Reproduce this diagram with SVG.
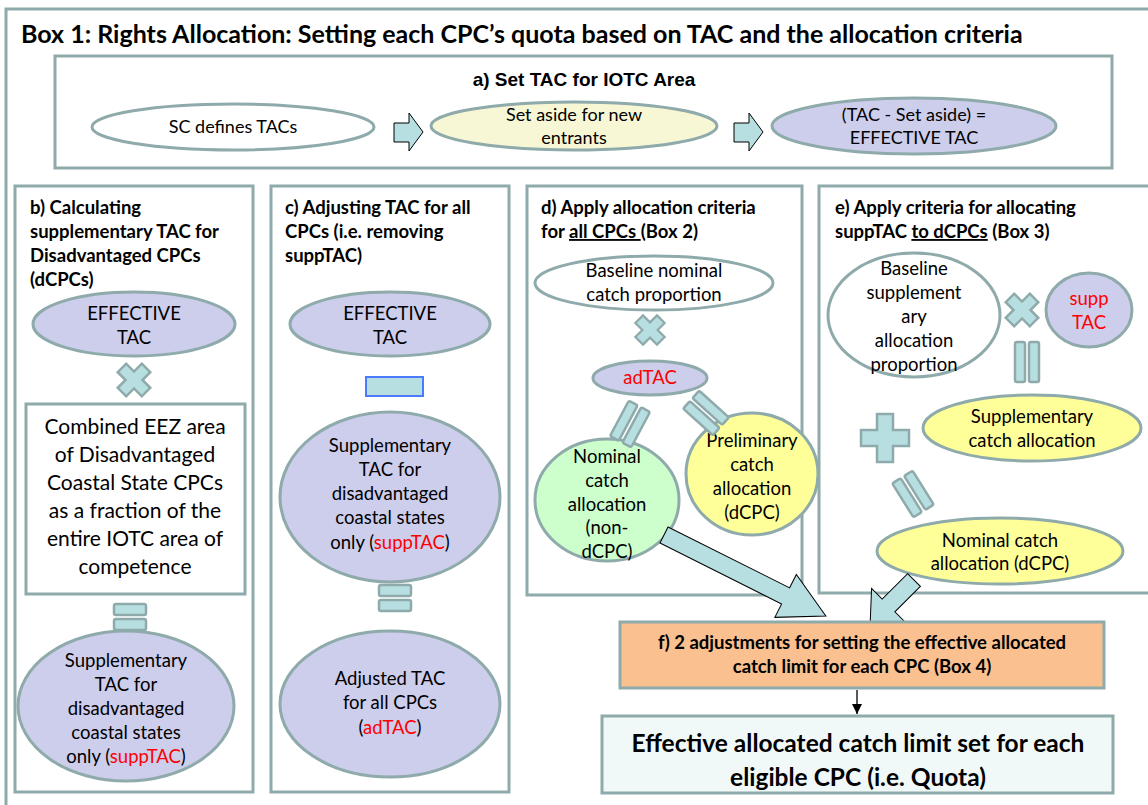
<svg xmlns="http://www.w3.org/2000/svg" width="1148" height="805" viewBox="0 0 1148 805">
<defs>
<style>
.box{fill:#fff;stroke:#8FAAAA;stroke-width:3}
.ell{stroke:#8FAAAA;stroke-width:3}
.lav{fill:#CDCDEC}
.wht{fill:#fff}
.yel{fill:#FFFF99}
.ltyel{fill:#F7F7D5}
.grn{fill:#CCFFCC}
.op{fill:#B7DEE0;stroke:#8FAAAA;stroke-width:2.5}
.arr{fill:#B7DEE0;stroke:#000;stroke-width:1}
.t{font-family:Lato,"Liberation Sans",sans-serif;fill:#000}
.ta{font-family:"Liberation Sans",Arial,sans-serif;fill:#000}
.b{font-weight:bold}
.red{fill:#FF0000}
.c{text-anchor:middle}
.s16{font-size:18px}
.s17{font-size:18.5px}
.h{font-size:18.5px;font-weight:bold}
</style>
<path id="plus" d="M-6,-17H6V-6H17V6H6V17H-6V6H-17V-6H-6Z"/>
<path id="bigplus" d="M-8,-24H8V-8H24V8H8V24H-8V8H-24V-8H-8Z"/>
<g id="eq"><rect x="-16" y="-13" width="32" height="11" rx="2"/><rect x="-16" y="2" width="32" height="11" rx="2"/></g>
<g id="eqL"><rect x="-20" y="-12" width="40" height="10" rx="2"/><rect x="-20" y="2" width="40" height="10" rx="2"/></g>
<marker id="ah" viewBox="0 0 10 10" refX="10" refY="5" markerWidth="8" markerHeight="8" orient="auto"><path d="M0,0L10,5L0,10Z" fill="#000"/></marker>
</defs>

<rect x="0" y="0" width="1148" height="805" fill="#fff"/>

<g id="outer">
<rect x="6" y="9" width="1200" height="900" fill="none" stroke="#8FAAAA" stroke-width="3"/>
<text class="t b" x="21" y="43" font-size="25">Box 1: Rights Allocation: Setting each CPC’s quota based on TAC and the allocation criteria</text>
</g>

<g id="boxA">
<rect class="box" x="55" y="56" width="1057" height="112"/>
<text class="ta b c" x="584" y="86" font-size="19">a) Set TAC for IOTC Area</text>
</g>
<g id="scDefines">
<ellipse class="ell wht" cx="233" cy="127" rx="141" ry="23"/>
<text class="t c s16" x="233" y="133">SC defines TACs</text>
</g>
<g id="setAside">
<ellipse class="ell ltyel" cx="574" cy="126" rx="143" ry="24"/>
<text class="t c s16" x="574" y="121">Set aside for new</text>
<text class="t c s16" x="574" y="144">entrants</text>
</g>
<g id="effTAC">
<ellipse class="ell lav" cx="914" cy="126" rx="142" ry="28"/>
<text class="t c s16" x="914" y="121">(TAC - Set aside) =</text>
<text class="t c s16" x="914" y="144">EFFECTIVE TAC</text>
</g>

<g id="boxB">
<rect class="box" x="15" y="186" width="238" height="606"/>
<text class="t h" x="30" y="214">b) Calculating</text>
<text class="t h" x="30" y="238">supplementary TAC for</text>
<text class="t h" x="30" y="262">Disadvantaged CPCs</text>
<text class="t h" x="30" y="286">(dCPCs)</text>
</g>
<g id="bEff">
<ellipse class="ell lav" cx="134" cy="324" rx="101" ry="32"/>
<text class="t c s17" x="134" y="320">EFFECTIVE</text>
<text class="t c s17" x="134" y="344">TAC</text>
</g>
<g id="bEez">
<rect class="box" x="26" y="404" width="219" height="190"/>
<text class="t c" font-size="21" x="135" y="434">Combined EEZ area</text>
<text class="t c" font-size="21" x="135" y="462">of Disadvantaged</text>
<text class="t c" font-size="21" x="135" y="490">Coastal State CPCs</text>
<text class="t c" font-size="21" x="135" y="518">as a fraction of the</text>
<text class="t c" font-size="21" x="135" y="546">entire IOTC area of</text>
<text class="t c" font-size="21" x="135" y="574">competence</text>
</g>
<g id="bSupp">
<ellipse class="ell lav" cx="126" cy="706" rx="108" ry="75"/>
<text class="t c s17" x="126" y="667">Supplementary</text>
<text class="t c s17" x="126" y="691">TAC for</text>
<text class="t c s17" x="126" y="715">disadvantaged</text>
<text class="t c s17" x="126" y="739">coastal states</text>
<text class="t c s17" x="126" y="763">only (<tspan class="red">suppTAC</tspan>)</text>
</g>

<g id="boxC">
<rect class="box" x="271" y="186" width="238" height="606"/>
<text class="t h" x="285" y="214">c) Adjusting TAC for all</text>
<text class="t h" x="285" y="238">CPCs (i.e. removing</text>
<text class="t h" x="285" y="262">suppTAC)</text>
</g>
<g id="cEff">
<ellipse class="ell lav" cx="390" cy="324" rx="100" ry="32"/>
<text class="t c s17" x="390" y="320">EFFECTIVE</text>
<text class="t c s17" x="390" y="344">TAC</text>
</g>
<g id="cSupp">
<ellipse class="ell lav" cx="390" cy="497" rx="110" ry="85"/>
<text class="t c s17" x="390" y="452">Supplementary</text>
<text class="t c s17" x="390" y="476">TAC for</text>
<text class="t c s17" x="390" y="500">disadvantaged</text>
<text class="t c s17" x="390" y="524">coastal states</text>
<text class="t c s17" x="390" y="549">only (<tspan class="red">suppTAC</tspan>)</text>
</g>
<g id="cAdj">
<ellipse class="ell lav" cx="390" cy="704" rx="110" ry="73"/>
<text class="t c s17" x="390" y="685">Adjusted TAC</text>
<text class="t c s17" x="390" y="709">for all CPCs</text>
<text class="t c s17" x="390" y="734">(<tspan class="red">adTAC</tspan>)</text>
</g>

<g id="boxD">
<rect class="box" x="527" y="186" width="275" height="409"/>
<text class="t h" x="541" y="214">d) Apply allocation criteria</text>
<text class="t h" x="541" y="238">for <tspan text-decoration="underline">all CPCs </tspan>(Box 2)</text>
</g>
<g id="dBaseline">
<ellipse class="ell wht" cx="654" cy="283" rx="119" ry="27"/>
<text class="t c s17" x="654" y="277">Baseline nominal</text>
<text class="t c s17" x="654" y="301">catch proportion</text>
</g>
<g id="dAdTAC">
<ellipse class="ell lav" cx="650" cy="378" rx="57" ry="17"/>
<text class="t c s17 red" x="650" y="384">adTAC</text>
</g>
<g id="dNominal">
<ellipse class="ell grn" cx="607" cy="500" rx="72" ry="61"/>
<text class="t c s17" x="607" y="463">Nominal</text>
<text class="t c s17" x="607" y="487">catch</text>
<text class="t c s17" x="607" y="511">allocation</text>
<text class="t c s17" x="607" y="534">(non-</text>
<text class="t c s17" x="607" y="558">dCPC)</text>
</g>
<g id="dPrelim">
<ellipse class="ell yel" cx="752" cy="474" rx="66" ry="61"/>
<text class="t c s17" x="752" y="447">Preliminary</text>
<text class="t c s17" x="752" y="471">catch</text>
<text class="t c s17" x="752" y="495">allocation</text>
<text class="t c s17" x="752" y="519">(dCPC)</text>
</g>

<g id="boxE">
<rect class="box" x="819" y="186" width="400" height="407"/>
<text class="t h" x="835" y="214">e) Apply criteria for allocating</text>
<text class="t h" x="835" y="238">suppTAC <tspan text-decoration="underline">to dCPCs</tspan> (Box 3)</text>
</g>
<g id="eBaseline">
<ellipse class="ell wht" cx="914" cy="315" rx="86" ry="62"/>
<text class="t c s17" x="914" y="275">Baseline</text>
<text class="t c s17" x="914" y="299">supplement</text>
<text class="t c s17" x="914" y="323">ary</text>
<text class="t c s17" x="914" y="347">allocation</text>
<text class="t c s17" x="914" y="371">proportion</text>
</g>
<g id="eSuppTAC">
<ellipse class="ell lav" cx="1089" cy="310" rx="43" ry="37"/>
<text class="t c s17 red" x="1089" y="305">supp</text>
<text class="t c s17 red" x="1089" y="329">TAC</text>
</g>
<g id="eSuppCatch">
<ellipse class="ell yel" cx="1032" cy="428" rx="109" ry="33"/>
<text class="t c s17" x="1032" y="423">Supplementary</text>
<text class="t c s17" x="1032" y="447">catch allocation</text>
</g>
<g id="eNominal">
<ellipse class="ell yel" cx="1000" cy="551" rx="123" ry="33"/>
<text class="t c s17" x="1000" y="547">Nominal catch</text>
<text class="t c s17" x="1000" y="570">allocation (dCPC)</text>
</g>

<g id="operators">
<use href="#plus" class="op" transform="translate(134,380) rotate(45)"/>
<use href="#eq" class="op" transform="translate(130,617)"/>
<rect x="366" y="377" width="57" height="19" fill="#B7DEE0" stroke="#4A7BFF" stroke-width="2"/>
<use href="#eq" class="op" transform="translate(395,598)"/>
<use href="#plus" class="op" transform="translate(650,330) rotate(45) scale(0.9)"/>
<use href="#eqL" class="op" transform="translate(630,424) rotate(-62)"/>
<use href="#eqL" class="op" transform="translate(706,413) rotate(42)"/>
<use href="#plus" class="op" transform="translate(1022,310) rotate(45)"/>
<use href="#eqL" class="op" transform="translate(1027,362) rotate(90)"/>
<use href="#bigplus" class="op" transform="translate(885,438)"/>
<use href="#eqL" class="op" transform="translate(913,494) rotate(58)"/>
</g>

<g id="connectors">
<path class="arr" d="M394,123H409V113L423,132L409,151V142H394Z"/>
<path class="arr" d="M734,123H749V113L763,132L749,151V142H734Z"/>
<path class="arr" transform="translate(664,535) rotate(26.6)" d="M0,-9H136V-24L181,0L136,24V9H0Z"/>
<path class="arr" transform="translate(914,580) rotate(135)" d="M0,-9H36V-24L62,0L36,24V9H0Z"/>
<line x1="857" y1="690" x2="857" y2="714" stroke="#000" stroke-width="1.3" marker-end="url(#ah)"/>
</g>

<g id="boxF">
<rect x="620" y="622" width="484" height="66" fill="#FAC090" stroke="#8FAAAA" stroke-width="3"/>
<text class="t c h" x="862" y="649">f) 2 adjustments for setting the effective allocated</text>
<text class="t c h" x="862" y="673">catch limit for each CPC (Box 4)</text>
</g>
<g id="boxQuota">
<rect x="602" y="716" width="511" height="77" fill="#F0F8F8" stroke="#8FAAAA" stroke-width="3"/>
<text class="t b c" font-size="24.5" x="858" y="752">Effective allocated catch limit set for each</text>
<text class="t b c" font-size="24.5" x="858" y="786">eligible CPC (i.e. Quota)</text>
</g>
</svg>
